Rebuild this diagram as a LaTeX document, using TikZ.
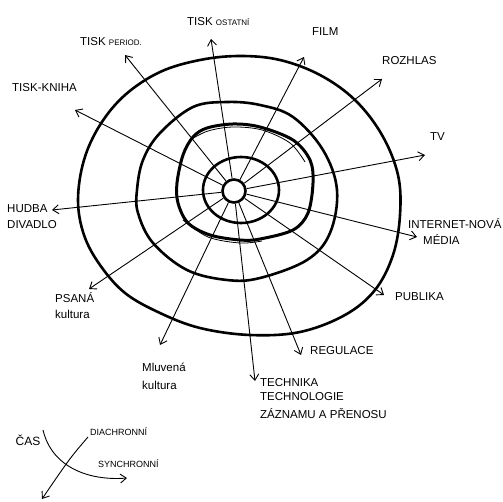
\documentclass[tikz,border=0pt]{standalone}
\usepackage{fontspec}
\setmainfont{Liberation Sans}
\usetikzlibrary{arrows.meta}
\begin{document}
\begin{tikzpicture}[x=1pt,y=-1pt,
  ring/.style={line width=2.6pt, line join=round},
  spoke/.style={line width=0.9pt, -{Straight Barb[length=6pt,width=9pt,line width=0.9pt]}},
  lbl/.style={font=\fontsize{11.5}{16}\selectfont, inner sep=0pt, align=left}
]
\useasboundingbox (0,0) rectangle (503,502);
% rings
\draw[ring] plot[smooth cycle, tension=0.6] coordinates {(78,200) (84,160) (100,125) (125,95) (160,72) (200,60) (240,56) (280,60) (320,75) (355,100) (382,135) (398,175) (400,215) (393,255) (375,290) (345,315) (300,332) (250,335) (200,328) (160,313) (125,293) (100,265) (84,235)};
\draw[ring] plot[smooth cycle, tension=0.6] coordinates {(137,190) (143,160) (160,133) (193,107) (227,102) (260,105) (293,117) (323,150) (337,190) (330,233) (307,260) (260,278) (227,280) (187,270) (153,243) (138,213)};
\draw[ring, line width=3pt] plot[smooth cycle, tension=0.55] coordinates {(177,183) (183,155) (193,137) (207,128) (233,124) (260,127) (293,140) (310,160) (313,183) (308,213) (293,230) (260,239) (240,240) (210,235) (188,223) (178,203)};
\draw[line width=0.8pt] plot[smooth, tension=0.55] coordinates {(190,140) (208,131) (233,127) (262,130) (290,143) (305,162)};
\draw[line width=0.8pt] plot[smooth, tension=0.55] coordinates {(183,220) (208,237) (240,243) (262,241)};
\draw[ring] (241,190) ellipse [x radius=38pt, y radius=33pt];
\node[circle, draw, line width=2.6pt, minimum size=23pt, inner sep=0pt] (c) at (234,191) {};
% spoke ends
\coordinate (tk) at (75,110);
\coordinate (tp) at (125,55);
\coordinate (to) at (211,39);
\coordinate (tf) at (304,57);
\coordinate (tr) at (382,79);
\coordinate (ttv) at (425,155);
\coordinate (ti) at (417,237);
\coordinate (tpu) at (384,295);
\coordinate (tre) at (301,355);
\coordinate (tte) at (255,381);
\coordinate (tml) at (160,345);
\coordinate (tps) at (89,289);
\coordinate (thu) at (52,210);
\foreach \t in {tk,tp,to,tf,tr,ttv,ti,tpu,tre,tte,tml,tps,thu}
  \draw[spoke] (c) -- (\t);
% labels
\node[lbl, anchor=west] (kniha) at (12,88) {TISK-KNIHA};
\node[lbl, anchor=west] (period) at (80,42) {TISK {\fontsize{8}{9}\selectfont PERIOD.}};
\node[lbl, anchor=west] (ostatni) at (187,22) {TISK {\fontsize{8}{9}\selectfont OSTATNÍ}};
\node[lbl, anchor=west] (film) at (312,32) {FILM};
\node[lbl, anchor=west] (rozhlas) at (382,61) {ROZHLAS};
\node[lbl, anchor=west] (tv) at (430,137) {TV};
\node[lbl, anchor=north west] (internet) at (408,218) {INTERNET-NOVÁ\\\hspace*{15pt}MÉDIA};
\node[lbl, anchor=west] (publika) at (395,297) {PUBLIKA};
\node[lbl, anchor=west] (regulace) at (310,351) {REGULACE};
\node[lbl, anchor=north west] (technika) at (260,378) {TECHNIKA\\[-2pt]TECHNOLOGIE\\[2pt]ZÁZNAMU A PŘENOSU};
\node[lbl, anchor=north west] (mluvena) at (142,363) {Mluvená\\[2pt]kultura};
\node[lbl, anchor=north west] (psana) at (55,292) {PSANÁ\\kultura};
\node[lbl, anchor=north west] (hudba) at (7,204) {HUDBA\\DIVADLO};
\node[lbl, font=\fontsize{12}{14}\selectfont] (cas) at (28,440) {ČAS};
\node[lbl, anchor=west, font=\fontsize{9}{10}\selectfont] (diachronni) at (90,432) {DIACHRONNÍ};
\node[lbl, anchor=west, font=\fontsize{9}{10}\selectfont] (synchronni) at (98,464) {SYNCHRONNÍ};
% time arrows
\coordinate (a1s) at (43,430);
\coordinate (a1e) at (127,478);
\coordinate (a2s) at (88,437);
\coordinate (a2e) at (42,499);
\draw[spoke] (a1s) .. controls (52,468) and (90,481) .. (a1e);
\draw[spoke] (a2s) .. controls (70,458) .. (a2e);
\end{tikzpicture}
\end{document}
